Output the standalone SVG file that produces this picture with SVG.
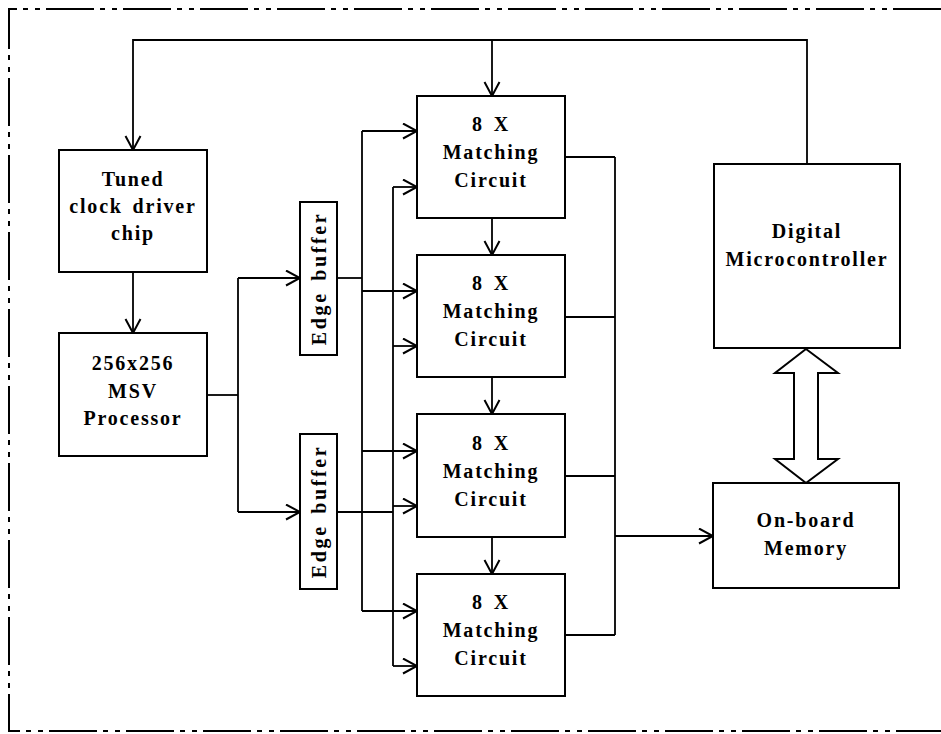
<svg xmlns="http://www.w3.org/2000/svg" width="941" height="734" viewBox="0 0 941 734">
<style>
.box{fill:#fff;stroke:#000;stroke-width:2}
.ln{fill:none;stroke:#000;stroke-width:1.8}
.bd{fill:none;stroke:#000;stroke-width:2;stroke-dasharray:48 6 5 7 5 6}
text{font-family:"Liberation Serif","DejaVu Serif",serif;font-weight:bold;font-size:20px;letter-spacing:1.8px;word-spacing:3px;text-anchor:middle;fill:#000}
</style>
<defs>
<marker id="ah" markerUnits="userSpaceOnUse" markerWidth="18" markerHeight="18" viewBox="-1 -1 18 18" refX="15" refY="7.5" orient="auto">
<path d="M1,0 L15,7.5 L1,15" fill="none" stroke="#000" stroke-width="2"/>
</marker>
</defs>
<rect width="941" height="734" fill="#fff"/>
<g id="border">
<path class="bd" d="M941,9 H9 V731 H941"/>
</g>
<g id="connectors">
<path class="ln" d="M807,164 V40 H133 V150" marker-end="url(#ah)"/>
<path class="ln" d="M492,40 V96" marker-end="url(#ah)"/>
<path class="ln" d="M133,272 V333" marker-end="url(#ah)"/>
<path class="ln" d="M207,395 H238"/>
<path class="ln" d="M238,278 V512"/>
<path class="ln" d="M238,278 H300" marker-end="url(#ah)"/>
<path class="ln" d="M238,512 H300" marker-end="url(#ah)"/>
<path class="ln" d="M337,278 H362"/>
<path class="ln" d="M362,131 V611"/>
<path class="ln" d="M362,131 H417" marker-end="url(#ah)"/>
<path class="ln" d="M362,291 H417" marker-end="url(#ah)"/>
<path class="ln" d="M362,451 H417" marker-end="url(#ah)"/>
<path class="ln" d="M362,611 H417" marker-end="url(#ah)"/>
<path class="ln" d="M337,512 H393"/>
<path class="ln" d="M393,187 V666"/>
<path class="ln" d="M393,187 H417" marker-end="url(#ah)"/>
<path class="ln" d="M393,346 H417" marker-end="url(#ah)"/>
<path class="ln" d="M393,506 H417" marker-end="url(#ah)"/>
<path class="ln" d="M393,666 H417" marker-end="url(#ah)"/>
<path class="ln" d="M492,218 V255" marker-end="url(#ah)"/>
<path class="ln" d="M492,377 V414" marker-end="url(#ah)"/>
<path class="ln" d="M492,537 V574" marker-end="url(#ah)"/>
<path class="ln" d="M565,157 H615 M565,317 H615 M565,476 H615 M565,635 H615 M615,157 V635"/>
<path class="ln" d="M615,536 H713" marker-end="url(#ah)"/>
<polygon class="box" points="806,349 838,373 818,373 818,459 838,459 806,483 775,459 794,459 794,373 775,373"/>
</g>
<g id="tuned">
<rect class="box" x="59" y="150" width="148" height="122"/>
<text x="133" y="186">Tuned</text>
<text x="133" y="213">clock driver</text>
<text x="133" y="240">chip</text>
</g>
<g id="msv">
<rect class="box" x="59" y="333" width="148" height="123"/>
<text x="133" y="370">256x256</text>
<text x="133" y="398">MSV</text>
<text x="133" y="425">Processor</text>
</g>
<g id="edge1">
<rect class="box" x="300" y="202" width="37" height="153"/>
<text transform="translate(326,278.5) rotate(-90)" style="letter-spacing:2.6px">Edge buffer</text>
</g>
<g id="edge2">
<rect class="box" x="300" y="434" width="37" height="155"/>
<text transform="translate(326,511.5) rotate(-90)" style="letter-spacing:2.6px">Edge buffer</text>
</g>
<g id="mc1">
<rect class="box" x="417" y="96" width="148" height="122"/>
<text x="491" y="131">8 X</text>
<text x="491" y="159">Matching</text>
<text x="491" y="187">Circuit</text>
</g>
<g id="mc2">
<rect class="box" x="417" y="255" width="148" height="122"/>
<text x="491" y="290">8 X</text>
<text x="491" y="318">Matching</text>
<text x="491" y="346">Circuit</text>
</g>
<g id="mc3">
<rect class="box" x="417" y="414" width="148" height="123"/>
<text x="491" y="450">8 X</text>
<text x="491" y="478">Matching</text>
<text x="491" y="506">Circuit</text>
</g>
<g id="mc4">
<rect class="box" x="417" y="574" width="148" height="122"/>
<text x="491" y="609">8 X</text>
<text x="491" y="637">Matching</text>
<text x="491" y="665">Circuit</text>
</g>
<g id="micro">
<rect class="box" x="714" y="164" width="186" height="184"/>
<text x="807" y="238">Digital</text>
<text x="807" y="266">Microcontroller</text>
</g>
<g id="memory">
<rect class="box" x="713" y="483" width="186" height="105"/>
<text x="806" y="527">On-board</text>
<text x="806" y="555">Memory</text>
</g>
</svg>
